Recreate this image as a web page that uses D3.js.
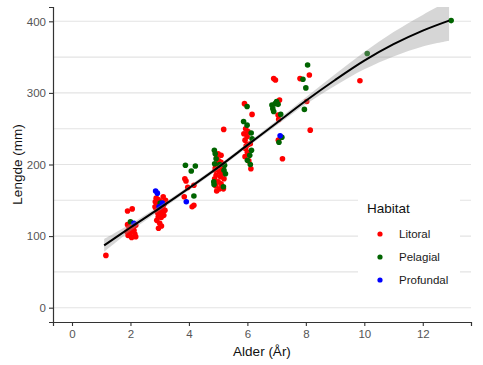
<!DOCTYPE html>
<html>
<head>
<meta charset="utf-8">
<script src="https://cdn.jsdelivr.net/npm/d3@7"></script>
<style>
  body { margin: 0; background: #fff; }
  text { font-family: "Liberation Sans", Arial, sans-serif; }
</style>
</head>
<body>
<div id="myChart"></div>
<script>
// data: [alder, lengde]
let litoral = [
  [1.16,73],
  [1.90,135],[2.06,138],[1.90,116],[2.18,115],[1.95,110],[2.12,108],[1.88,106],[2.15,103],
  [1.98,104],[2.04,98],[1.92,101],[2.18,99],[2.08,112],[2.02,107],[1.96,113],
  [2.88,153],[3.12,155],[3.20,150],[2.85,148],[2.95,151],[3.05,148],[3.15,145],[2.90,144],
  [3.00,142],[3.10,140],[2.87,139],[2.98,137],[3.18,136],[3.08,134],[2.92,133],[3.02,131],
  [3.14,129],[2.95,127],[3.05,126],[2.90,122],[3.00,118],[3.06,114],[2.96,111],[3.12,143],[2.84,141],
  [3.86,180],[3.90,177],[3.96,168],[4.17,171],[3.84,155],[4.11,141],[4.17,143],
  [5.19,249],[5.10,213],[4.95,210],[5.02,205],[4.98,198],[5.12,196],[4.90,192],[5.05,190],
  [5.15,188],[4.93,185],[5.08,183],[4.88,180],[5.20,180],[5.00,176],[5.10,173],[4.92,170],
  [5.05,166],[5.18,166],[4.95,163],[5.10,203],[5.00,215],[4.90,195],
  [5.90,285],[6.16,270],[5.94,250],[6.02,246],[5.88,243],[5.99,239],[5.92,234],[6.10,229],
  [5.94,222],[6.00,217],[5.92,211],[6.05,205],[6.12,194],[6.02,228],[5.96,226],
  [6.90,320],[6.96,318],[7.10,290],[7.05,269],[7.07,263],[7.06,234],[7.20,208],
  [7.80,320],[8.12,325],[8.03,288],[8.15,248],[9.85,317]
];
let pelagial = [
  [2.00,120],[3.02,146],
  [3.88,199],[4.08,191],[4.22,198],[4.17,156],
  [4.87,220],[4.90,215],[4.93,208],[4.88,201],[5.22,199],[5.25,187],[4.85,176],[5.18,169],
  [5.05,200],[5.20,192],[4.86,172],
  [5.99,281],[5.87,260],[5.99,255],[6.16,236],[6.14,220],[6.08,213],[6.00,206],[6.13,244],[6.10,200],
  [6.84,283],[6.95,285],[7.00,288],[7.05,284],[6.87,278],[6.90,274],[7.14,270],[7.18,238],[7.08,231],
  [7.90,319],[8.06,339],[8.00,307],[7.95,277],
  [10.10,355],[12.97,401]
];
let profundal = [
  [2.12,118],[2.86,163],[2.92,160],[3.09,146],[2.98,141],[3.91,148],[7.12,240]
];

// smoothed fit and its standard error band
let fitAge = [1.1, 2, 3, 4, 5, 6, 7, 8, 9, 10, 11, 12, 12.9];
let fitLen = [87, 112, 139, 167, 196, 227, 258, 289, 318, 345, 368, 387, 401];
let fitSe  = [9, 5, 3.5, 3, 3, 3, 3.5, 5, 8, 12, 17, 22, 28];

let habitats = ["Litoral", "Pelagial", "Profundal"];
let xTicks = [0, 2, 4, 6, 8, 10, 12];
let yTicks = [0, 100, 200, 300, 400];
let yGrid = [0, 50, 100, 150, 200, 250, 300, 350, 400];

// set the dimensions and margins of the graph
let margin = {top: 7, right: 12, bottom: 43, left: 53},
    width = 483 - margin.left - margin.right,
    height = 365 - margin.top - margin.bottom;

let svg = d3.select("#myChart")
  .append("svg")
    .attr("width", 483)
    .attr("height", 365)
  .append("g")
    .attr("transform", "translate(" + margin.left + "," + margin.top + ")");

let x = d3.scaleLinear().domain([-0.65, 13.65]).range([0, width]);
let y = d3.scaleLinear().domain([-20, 420]).range([height, 0]);

let colors = d3.scaleOrdinal()
  .domain(habitats)
  .range(["#ff0000", "#006400", "#0000ff"]);

svg.append("clipPath").attr("id", "panel")
  .append("rect").attr("width", width).attr("height", height);

// horizontal grid
svg.append("g")
  .selectAll("line")
  .data(yGrid)
  .enter()
  .append("line")
    .attr("x1", 0)
    .attr("x2", width)
    .attr("y1", d => y(d))
    .attr("y2", d => y(d))
    .attr("stroke", "#e3e3e3")
    .attr("stroke-width", 1.1);

// points
let pts = [];
litoral.forEach(d => pts.push({age: d[0], len: d[1], hab: "Litoral"}));
pelagial.forEach(d => pts.push({age: d[0], len: d[1], hab: "Pelagial"}));
profundal.forEach(d => pts.push({age: d[0], len: d[1], hab: "Profundal"}));

svg.append("g")
  .selectAll("circle")
  .data(pts)
  .enter()
  .append("circle")
    .attr("cx", d => x(d.age))
    .attr("cy", d => y(d.len))
    .attr("r", 2.8)
    .style("fill", d => colors(d.hab));

// smooth + ribbon
let fit = fitAge.map((a, i) => ({age: a, len: fitLen[i], se: fitSe[i]}));

svg.append("path")
  .datum(fit)
  .attr("clip-path", "url(#panel)")
  .attr("fill", "#999999")
  .attr("fill-opacity", 0.4)
  .attr("d", d3.area()
    .curve(d3.curveCatmullRom.alpha(0.5))
    .x(d => x(d.age))
    .y0(d => y(d.len - d.se))
    .y1(d => y(d.len + d.se)));

svg.append("path")
  .datum(fit)
  .attr("fill", "none")
  .attr("stroke", "#000")
  .attr("stroke-width", 2)
  .attr("d", d3.line()
    .curve(d3.curveCatmullRom.alpha(0.5))
    .x(d => x(d.age))
    .y(d => y(d.len)));

// axes
let xAxis = svg.append("g")
  .attr("transform", "translate(0," + height + ")")
  .call(d3.axisBottom(x).tickValues(xTicks).tickSize(4).tickPadding(4));
let yAxis = svg.append("g")
  .call(d3.axisLeft(y).tickValues(yTicks).tickSize(4).tickPadding(3));

[xAxis, yAxis].forEach(a => {
  a.select(".domain").attr("stroke", "#333").attr("stroke-width", 1.2);
  a.selectAll(".tick line").attr("stroke", "#333").attr("stroke-width", 1.1);
  a.selectAll(".tick text")
    .attr("fill", "#555")
    .style("font-size", "11.5px");
});

svg.append("text")
  .attr("x", width / 2)
  .attr("y", height + 34)
  .attr("text-anchor", "middle")
  .style("font-size", "13.5px")
  .attr("fill", "#111")
  .text("Alder (År)");

svg.append("text")
  .attr("transform", "rotate(-90)")
  .attr("x", -height / 2)
  .attr("y", -31)
  .attr("text-anchor", "middle")
  .style("font-size", "13.5px")
  .attr("fill", "#111")
  .text("Lengde (mm)");

// legend
let legend = svg.append("g")
  .attr("transform", "translate(" + (358 - margin.left) + "," + (190 - margin.top) + ")");

legend.append("rect")
  .attr("width", 102)
  .attr("height", 104)
  .attr("fill", "#fff");

legend.append("text")
  .attr("x", 9)
  .attr("y", 23)
  .style("font-size", "13.5px")
  .attr("fill", "#111")
  .text("Habitat");

let items = legend.selectAll(".item")
  .data(habitats)
  .enter()
  .append("g")
    .attr("transform", (d, i) => "translate(0," + (44 + i * 23) + ")");

items.append("circle")
  .attr("cx", 22)
  .attr("cy", 0)
  .attr("r", 2.6)
  .style("fill", d => colors(d));

items.append("text")
  .attr("x", 41)
  .attr("y", 4)
  .style("font-size", "11.5px")
  .attr("fill", "#1a1a1a")
  .text(d => d);
</script>
</body>
</html>
